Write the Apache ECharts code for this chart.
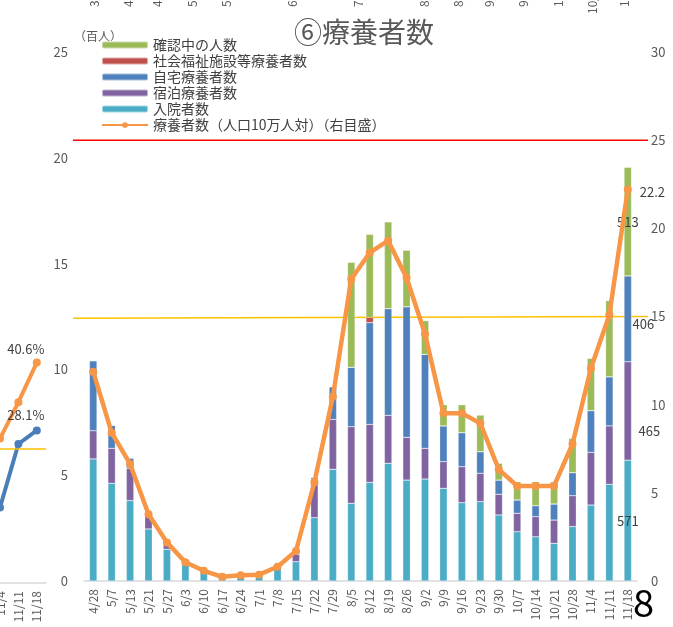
<!DOCTYPE html>
<html>
<head>
<meta charset="utf-8">
<script src="https://cdn.jsdelivr.net/npm/echarts@6/dist/echarts.min.js"></script>
<style>
  html, body { margin: 0; padding: 0; background: #fff; }
  #chart { width: 673px; height: 627px; }
</style>
</head>
<body>
<div id="chart"></div>
<script>
// --- data (百人 for bars, 人口10万人対 for the line) ---
var categories = ['4/28','5/7','5/13','5/21','5/27','6/3','6/10','6/17','6/24','7/1',
  '7/8','7/15','7/22','7/29','8/5','8/12','8/19','8/26','9/2','9/9',
  '9/16','9/23','9/30','10/7','10/14','10/21','10/28','11/4','11/11','11/18'];
var hospitalized = [5.77,4.62,3.80,2.46,1.50,0.78,0.42,0.20,0.26,0.28,
  0.60,0.91,2.99,5.28,3.67,4.66,5.56,4.77,4.82,4.38,
  3.70,3.75,3.12,2.33,2.09,1.78,2.57,3.59,4.57,5.71];
var hotel = [1.33,1.65,1.53,0.74,0.34,0.12,0.06,0.02,0.03,0.03,
  0.10,0.35,1.82,2.36,3.62,2.74,2.27,2.02,1.45,1.26,
  1.70,1.34,0.98,0.87,0.95,1.10,1.46,2.49,2.76,4.65];
var home = [3.31,1.09,0.48,0.09,0,0,0,0,0,0,
  0,0.20,0.09,1.54,2.81,4.81,5.04,6.17,4.44,1.69,
  1.61,1.02,0.67,0.63,0.52,0.76,1.09,1.97,2.32,4.06];
var welfare = [0,0,0,0,0,0,0,0,0,0,
  0,0,0,0,0,0.25,0,0,0,0,
  0,0,0,0,0,0,0,0,0,0];
var checking = [0,0,0,0,0,0,0,0,0,0,
  0,0,0,0,4.96,3.92,4.10,2.67,1.59,1.00,
  1.32,1.73,0.79,0.86,1.13,1.05,1.62,2.47,3.60,5.13];
var per100k = [11.87,8.41,6.64,3.78,2.19,1.06,0.58,0.24,0.32,0.36,
  0.81,1.70,5.60,10.45,17.13,18.62,19.30,17.20,14.01,9.51,
  9.51,8.94,6.33,5.39,5.39,5.39,7.77,12.06,15.09,22.2];
var leftTicks = [0, 25];
var rightTicks = [0, 30];
var redLine = [25, 25];
var yellowLine = [14.9, 15.0];

// neighbouring chart, cut off at the left edge (%)
var prevCategories = ['11/4', '11/11', '11/18'];
var prevOrange = [26.6, 33.3, 40.6];
var prevBlue = [13.9, 25.6, 28.1];
var prevYellow = 24.7;
// neighbouring chart above, only the ends of its date labels show
var topLabels = ['3/31','4/14','4/28','5/12','5/26','6/23','7/21','8/18','8/25','9/8','9/22','10/6','10/20','11/3'];

var grey = '#595959';
var font = '"Noto Sans CJK JP", "Noto Sans", sans-serif';

function lastLabel(arr, label) {
  return arr.map(function(v, i) {
    return i === arr.length - 1 ? { value: v, label: label } : v;
  });
}
function indexed(arr, label) {
  return arr.map(function(v, i) {
    var item = { value: [i, v] };
    if (i === arr.length - 1) item.label = label;
    return item;
  });
}
function hundreds(p) { return Math.round(p.value * 100); }

var barBase = {
  type: 'bar',
  stack: 'total',
  barWidth: 7.5,
  xAxisIndex: 0,
  yAxisIndex: 0
};
function barSeries(name, color, data) {
  return Object.assign({}, barBase, {
    name: name,
    data: data,
    itemStyle: { color: color, borderColor: 'rgba(255,255,255,0.5)', borderWidth: 0.5 }
  });
}
var valLabel = { show: true, color: '#404040', fontSize: 13, fontFamily: font, formatter: hundreds };

var topGraphics = topLabels.map(function(t, i) {
  var xs = [94,128,157,192,226,292,358,424,458,489,523,558,592,624];
  return {
    type: 'text',
    x: xs[i],
    y: t.length > 4 ? 14 : 7,
    rotation: Math.PI / 2,
    style: { text: t, fill: grey, fontSize: 12, fontFamily: font, align: 'left', verticalAlign: 'middle' }
  };
});

var chart = echarts.init(document.getElementById('chart'), null, { renderer: 'canvas' });
chart.setOption({
  animation: false,
  textStyle: { fontFamily: font },
  title: {
    text: '⑥療養者数',
    left: 289,
    top: 13,
    textStyle: { color: grey, fontSize: 28, fontWeight: 'normal', fontFamily: font }
  },
  legend: {
    orient: 'vertical',
    left: 101,
    top: 38,
    padding: 0,
    itemWidth: 46,
    itemHeight: 7,
    itemGap: 2,
    textStyle: { color: '#404040', fontSize: 14, fontFamily: font },
    data: ['確認中の人数', '社会福祉施設等療養者数', '自宅療養者数', '宿泊療養者数', '入院者数',
      '療養者数（人口10万人対）（右目盛）']
  },
  graphic: topGraphics.concat([
    { type: 'text', x: 74, y: 30, style: { text: '（百人）', fill: grey, fontSize: 12, fontFamily: font } },
    { type: 'text', x: 633, y: 584, style: { text: '8', fill: '#000', fontSize: 38, fontFamily: font } }
  ]),
  grid: [
    { left: 84, right: 36, top: 52, bottom: 46, outerBoundsMode: 'none' },
    { left: 0, width: 46, top: 40, bottom: 44, outerBoundsMode: 'none' },
    { left: 73, right: 25, top: 52, bottom: 46, outerBoundsMode: 'none' }
  ],
  xAxis: [
    {
      type: 'category',
      gridIndex: 0,
      data: categories,
      axisLine: { lineStyle: { color: '#d9d9d9', width: 1.5 } },
      axisTick: { show: false },
      axisLabel: { color: grey, fontSize: 12, rotate: 90, interval: 0, margin: 8 }
    },
    {
      type: 'value',
      gridIndex: 1,
      min: 0,
      max: 2.5,
      interval: 1,
      splitLine: { show: false },
      axisLine: { show: true, lineStyle: { color: '#d9d9d9', width: 1.5 } },
      axisTick: { show: false },
      axisLabel: {
        color: grey, fontSize: 12, rotate: 90, margin: 8,
        formatter: function(v) { return prevCategories[v] || ''; }
      }
    },
    { type: 'value', gridIndex: 2, min: 0, max: 1, show: false }
  ],
  yAxis: [
    {
      type: 'value',
      gridIndex: 0,
      min: leftTicks[0],
      max: leftTicks[1],
      interval: 5,
      splitLine: { show: false },
      axisLine: { show: false },
      axisTick: { show: false },
      axisLabel: { color: grey, fontSize: 13, margin: 16 }
    },
    {
      type: 'value',
      gridIndex: 0,
      position: 'right',
      min: rightTicks[0],
      max: rightTicks[1],
      interval: 5,
      splitLine: { show: false },
      axisLine: { show: false },
      axisTick: { show: false },
      axisLabel: { color: grey, fontSize: 13, margin: 14 }
    },
    { type: 'value', gridIndex: 1, min: 0, max: 100, show: false },
    { type: 'value', gridIndex: 2, min: rightTicks[0], max: rightTicks[1], show: false }
  ],
  series: [
    barSeries('入院者数', '#4bacc6', lastLabel(hospitalized, Object.assign({ position: 'inside' }, valLabel))),
    barSeries('宿泊療養者数', '#8064a2', lastLabel(hotel, Object.assign({ position: 'right', offset: [2, 20] }, valLabel))),
    barSeries('自宅療養者数', '#4f81bd', lastLabel(home, Object.assign({ position: 'right', offset: [-4, 5] }, valLabel))),
    barSeries('社会福祉施設等療養者数', '#c0504d', welfare),
    barSeries('確認中の人数', '#9bbb59', lastLabel(checking, Object.assign({ position: 'inside' }, valLabel))),
    {
      name: '療養者数（人口10万人対）（右目盛）',
      type: 'line',
      xAxisIndex: 0,
      yAxisIndex: 1,
      z: 5,
      data: lastLabel(per100k, {
        show: true, position: 'right', offset: [3, 3], color: '#404040', fontSize: 13, formatter: '{c}'
      }),
      symbol: 'circle',
      symbolSize: 8,
      color: '#f79646',
      lineStyle: { color: '#f79646', width: 4.5 },
      itemStyle: { color: '#f79646' }
    },
    {
      name: 'prevOrange',
      type: 'line',
      xAxisIndex: 1,
      yAxisIndex: 2,
      data: indexed(prevOrange, {
        show: true, position: 'top', offset: [-11, 2], color: '#404040', fontSize: 13,
        formatter: function(p) { return p.value[1] + '%'; }
      }),
      symbol: 'circle',
      symbolSize: 8,
      lineStyle: { color: '#f79646', width: 4 },
      itemStyle: { color: '#f79646' },
      markLine: {
        silent: true,
        symbol: 'none',
        label: { show: false },
        lineStyle: { color: '#ffc000', width: 1.5, type: 'solid' },
        data: [{ yAxis: prevYellow }]
      }
    },
    {
      name: 'prevBlue',
      type: 'line',
      xAxisIndex: 1,
      yAxisIndex: 2,
      data: indexed(prevBlue, {
        show: true, position: 'top', offset: [-11, 0], color: '#404040', fontSize: 13,
        formatter: function(p) { return p.value[1] + '%'; }
      }),
      symbol: 'circle',
      symbolSize: 8,
      lineStyle: { color: '#4a7ebb', width: 4 },
      itemStyle: { color: '#4a7ebb' }
    },
    {
      name: 'red',
      type: 'line',
      xAxisIndex: 2,
      yAxisIndex: 3,
      symbol: 'none',
      z: 1,
      lineStyle: { color: '#ff0000', width: 1.5 },
      data: [[0, redLine[0]], [1, redLine[1]]]
    },
    {
      name: 'yellow',
      type: 'line',
      xAxisIndex: 2,
      yAxisIndex: 3,
      symbol: 'none',
      z: 1,
      lineStyle: { color: '#ffc000', width: 1.5 },
      data: [[0, yellowLine[0]], [1, yellowLine[1]]]
    }
  ]
});
</script>
</body>
</html>
